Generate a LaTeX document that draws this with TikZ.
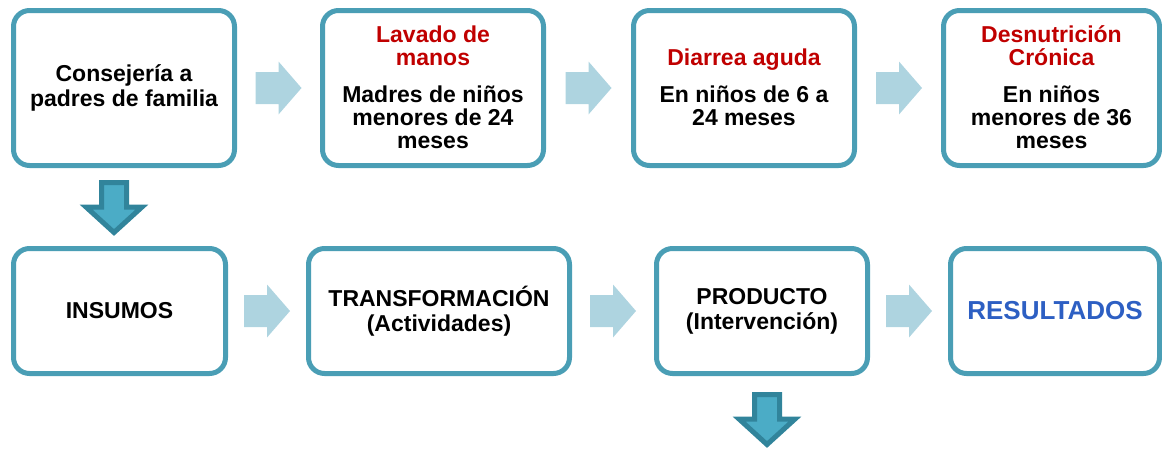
\documentclass[tikz,border=0pt]{standalone}
\usepackage{fontspec}
\setmainfont{Liberation Sans}
\usepackage{tikz}

\definecolor{borde}{RGB}{74,158,181}
\definecolor{rojo}{RGB}{192,0,0}
\definecolor{claro}{RGB}{174,212,224}
\definecolor{relleno}{RGB}{75,172,198}
\definecolor{oscuro}{RGB}{49,132,155}
\definecolor{azul}{RGB}{45,95,195}

\tikzset{
  caja/.style={draw=borde, line width=2.5pt, rounded corners=8pt, fill=white,
    align=center, font=\fontsize{11.5}{12.5}\selectfont\bfseries},
  titulo/.style={text=rojo, align=center, anchor=base,
    font=\fontsize{11.5}{11.5}\selectfont\bfseries},
  texto/.style={align=center, anchor=base,
    font=\fontsize{11.5}{11.5}\selectfont\bfseries},
  flechaclara/.pic={
    \fill[claro] (-23,-16) -- (0,-16) -- (0,-26.5) -- (23,0) -- (0,26.5) -- (0,16) -- (-23,16) -- cycle;
  },
  flechabaja/.pic={
    \filldraw[fill=relleno, draw=oscuro, line width=2.5pt]
      (-12.5,-25.5) -- (12.5,-25.5) -- (12.5,-1) -- (28,-1) -- (0,24.5) -- (-28,-1) -- (-12.5,-1) -- cycle;
  }
}

\begin{document}
\begin{tikzpicture}[x=0.5pt, y=-0.5pt]
  \useasboundingbox (0,0) rectangle (1162,450);

  % Top row of boxes
  \node[caja, minimum width=110.5pt, minimum height=77.5pt] (b1) at (124,88) {Consejería a\\padres de familia};
  \node[caja, minimum width=110.5pt, minimum height=77.5pt] (b2) at (433,88) {};
  \node[caja, minimum width=110.5pt, minimum height=77.5pt] (b3) at (744,88) {};
  \node[caja, minimum width=108pt, minimum height=77.5pt] (b4) at (1051.5,88) {};

  % Headings and texts inside the top boxes
  \node[titulo] (t2) at (433,65) {Lavado de\\manos};
  \node[texto] (s2) at (433,148) {Madres de niños\\menores de 24\\meses};
  \node[titulo] (t3) at (744,65) {Diarrea aguda};
  \node[texto] (s3) at (744,125) {En niños de 6 a\\24 meses};
  \node[titulo] (t4) at (1051.5,65) {Desnutrición\\Crónica};
  \node[texto] (s4) at (1051.5,148) {En niños\\menores de 36\\meses};

  % Bottom row of boxes
  \node[caja, minimum width=106pt, minimum height=62.5pt] (b5) at (119.5,311) {INSUMOS};
  \node[caja, minimum width=130.5pt, minimum height=62.5pt] (b6) at (439,311) {TRANSFORMACIÓN\\(Actividades)};
  \node[caja, minimum width=105.5pt, minimum height=62.5pt] (b7) at (762,311) {PRODUCTO\\(Intervención)};
  \node[caja, minimum width=104.5pt, minimum height=62.5pt] (b8) at (1055,311)
    {\textcolor{azul}{\fontsize{13}{13}\selectfont RESULTADOS}};

  % Light arrows between the boxes
  \path (b1) -- (b2) coordinate[midway] (f12);
  \path (b2) -- (b3) coordinate[midway] (f23);
  \path (b3) -- (b4) coordinate[midway] (f34);
  \path (b5) -- (b6) coordinate[midway] (f56);
  \path (b6) -- (b7) coordinate[midway] (f67);
  \path (b7) -- (b8) coordinate[midway] (f78);
  \foreach \f in {f12,f23,f34,f56,f67,f78}
    \pic at (\f) {flechaclara};

  % Down arrows
  \coordinate (d1) at (114,208);
  \coordinate (d2) at (767,420);
  \pic at (d1) {flechabaja};
  \pic at (d2) {flechabaja};
\end{tikzpicture}
\end{document}
